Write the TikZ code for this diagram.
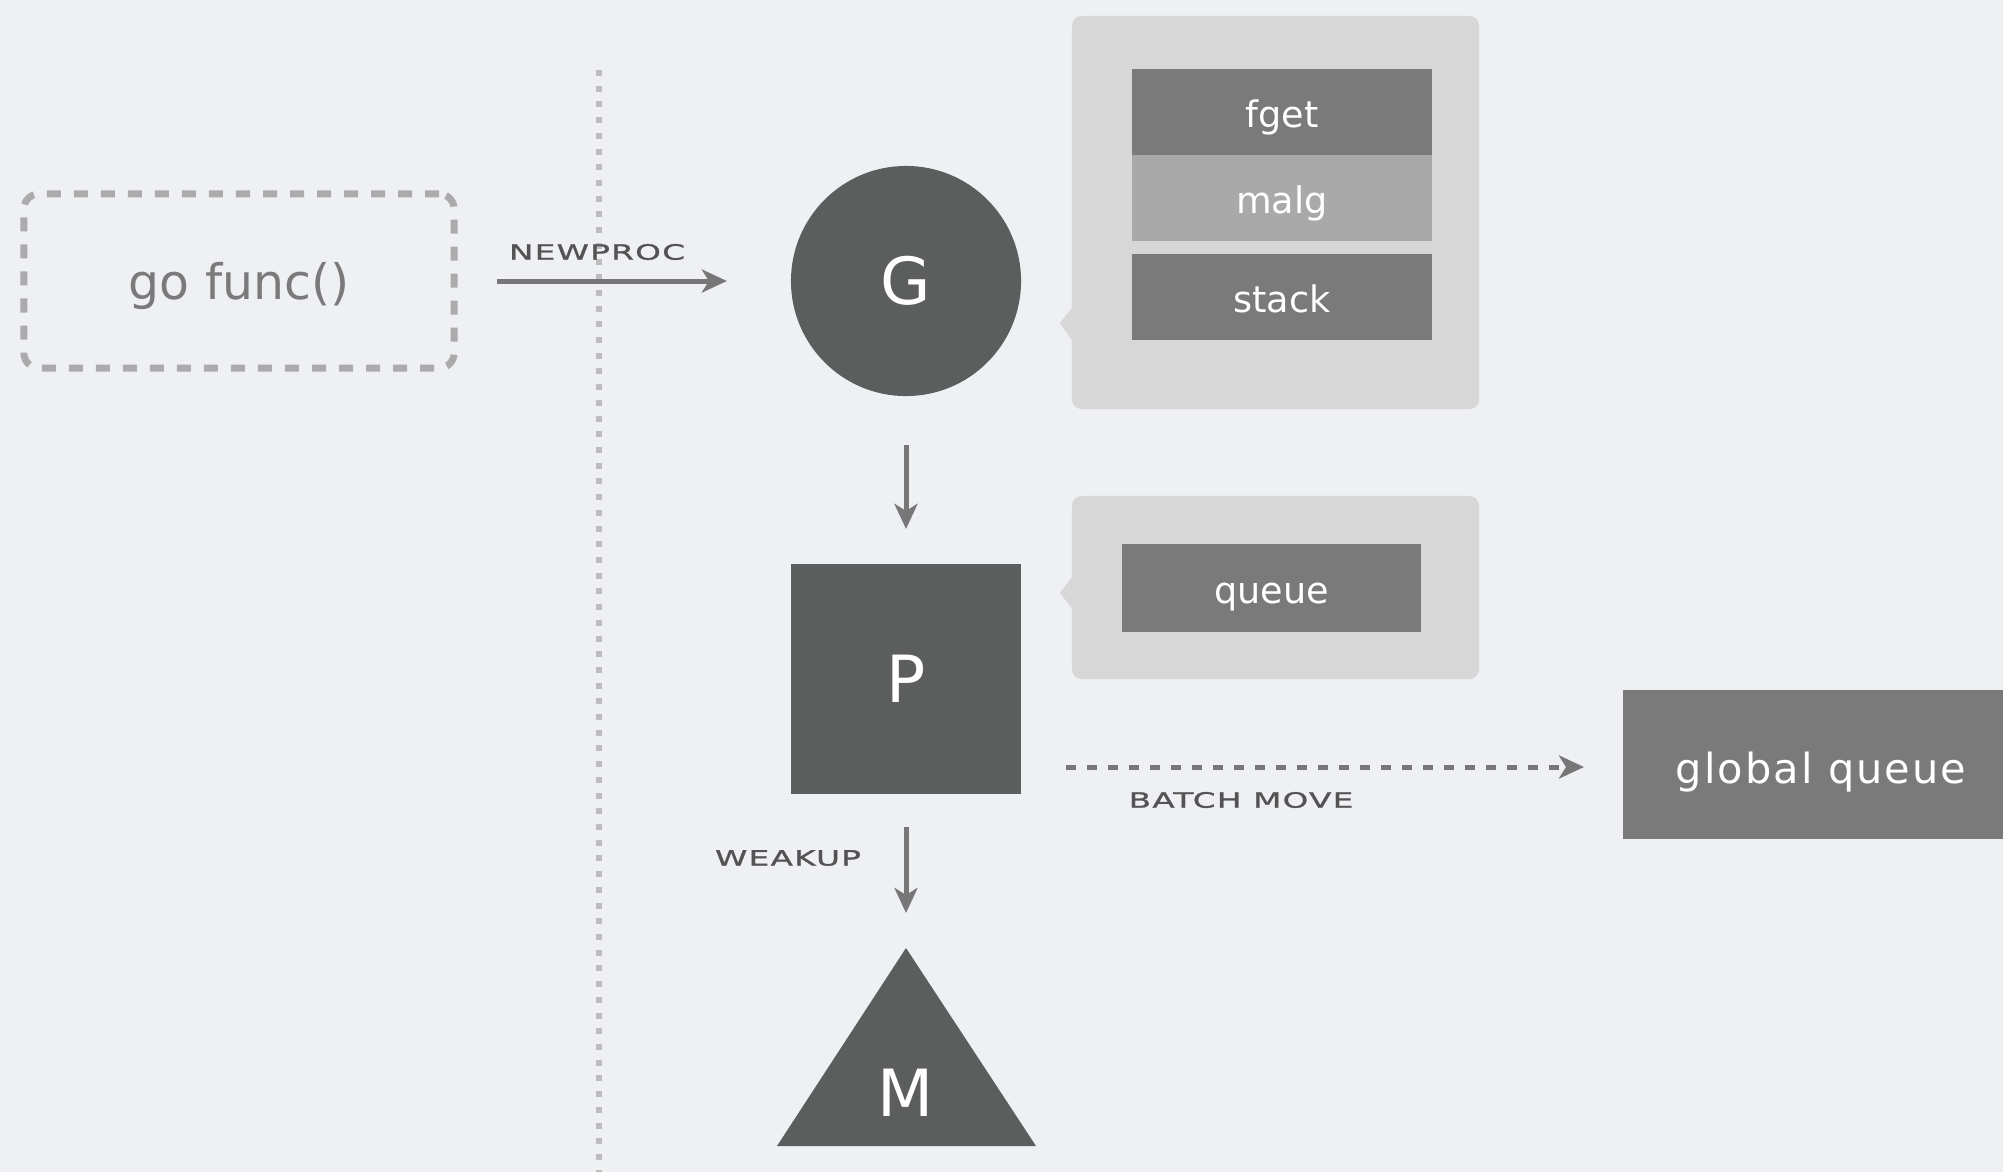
\documentclass[tikz,border=0pt]{standalone}
\usepackage{fontspec}
\setmainfont{DejaVu Sans}
\newfontfamily\tagfont[FakeStretch=1.55,LetterSpace=6,FakeBold=1.2]{DejaVu Sans}
\usetikzlibrary{positioning,arrows.meta}

\definecolor{bgcol}{HTML}{EFF0F3}
\definecolor{darkcol}{HTML}{5B5E5D}
\definecolor{boxcol}{HTML}{7A7A7A}
\definecolor{lightbox}{HTML}{A9A9A9}
\definecolor{panelcol}{HTML}{D7D7D7}
\definecolor{linecol}{HTML}{777777}
\definecolor{dashcol}{HTML}{ABABAB}
\definecolor{dotcol}{HTML}{BDBDBD}
\definecolor{tagcol}{HTML}{535353}

\begin{document}
\begin{tikzpicture}[x=0.01cm, y=-0.01cm]
        \tikzstyle{every node}=[inner sep=0pt, outer sep=0pt]
        \tikzstyle{entity}=[fill=darkcol, text=white, minimum size=2.3cm, font=\fontsize{18.5}{20}\selectfont]
        \tikzstyle{field}=[fill=boxcol, text=white, minimum width=3cm, minimum height=0.86cm, text height=0.3cm, text depth=0pt, font=\fontsize{10.4}{12}\selectfont]
        \tikzstyle{panel}=[fill=panelcol, rounded corners=0.1cm]
        \tikzstyle{flow}=[draw=linecol, line width=0.05cm, -{Stealth[length=0.25cm, width=0.23cm, inset=0.07cm]}]
        \tikzstyle{tag}=[text=tagcol, font=\tagfont\fontsize{6}{7}\selectfont]

        % page
        \fill[bgcol] (0,0) rectangle (2003,1172);
        \useasboundingbox (0,0) rectangle (2003,1172);

        % user / runtime border
        \draw[dotcol, line width=0.06cm, dash pattern=on 0.06cm off 0.097cm] (599,70) -- (599,1172);

        \node (gofunc) [draw=dashcol, line width=0.07cm, dash pattern=on 0.14cm off 0.13cm, rounded corners=0.15cm,
            minimum width=4.3cm, minimum height=1.74cm, text=boxcol, text height=0.37cm, text depth=0pt,
            font=\fontsize{13.9}{16}\selectfont] at (239,281) {go func()};

        % G, P, M
        \node (G) [entity, circle] at (906,281) {G};
        \node (P) [entity, rectangle] at (906,679) {P};
        \fill[darkcol] (906,948) -- (1036,1146) -- (777,1146) -- cycle;
        \coordinate (Mtop) at (906,948);
        \node (M) [text=white, font=\fontsize{18.5}{20}\selectfont] at (906,1093) {M};

        % what G holds
        \node (gpanel) [panel, minimum width=4.07cm, minimum height=3.93cm] at (1275.5,212.5) {};
        \fill[panelcol] (gpanel.west) ++(0,95.5) -- ++(-12,15) -- ++(12,17) -- cycle;
        \node (fget) [field] at (1282,112) {fget};
        \node (malg) [field, fill=lightbox, below=0pt of fget] {malg};
        \node (stack) [field, below=0.13cm of malg] {stack};

        % what P holds
        \node (ppanel) [panel, minimum width=4.07cm, minimum height=1.83cm] at (1275.5,587.5) {};
        \fill[panelcol] (ppanel.west) ++(0,-10.5) -- ++(-12,16) -- ++(12,15) -- cycle;
        \node (queue) [field, minimum width=2.99cm, minimum height=0.88cm] at (1271.5,588) {queue};

        \node (global) [fill=boxcol, text=white, minimum width=3.96cm, minimum height=1.49cm,
            text height=0.37cm, text depth=0pt, anchor=west,
            font=\addfontfeature{LetterSpace=5}\fontsize{11.8}{14}\selectfont] at (1623,764.5) {global queue};
        \coordinate (batchend) at (1623,767);

        % connectors
        \draw[flow, shorten <=0.43cm, shorten >=0.64cm] (gofunc.east) -- (G.west);
        \draw[flow, shorten <=0.49cm, shorten >=0.35cm] (G.south) -- (P.north);
        \draw[flow, shorten <=0.33cm, shorten >=0.35cm] (P.south) -- (Mtop);
        \draw[flow, dash pattern=on 0.1cm off 0.11cm, shorten <=0.45cm, shorten >=0.39cm] (P.east |- batchend) -- (batchend);

        \node (newproc) [tag] at (597,252) {NEWPROC};
        \node (batch) [tag] at (1241,800) {BATCH MOVE};
        \node (wakeup) [tag] at (788,858) {WEAKUP};

    \end{tikzpicture}
\end{document}
